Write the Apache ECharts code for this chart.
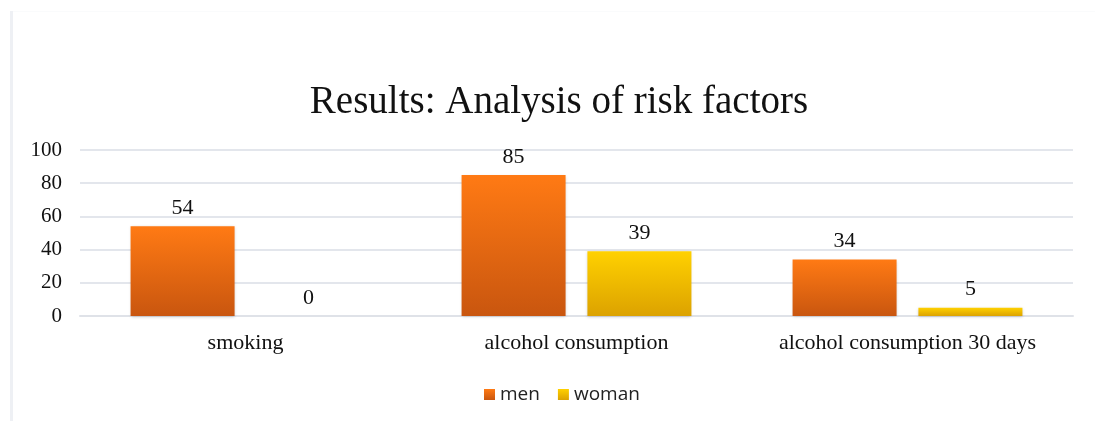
<!DOCTYPE html>
<html>
<head>
<meta charset="utf-8">
<style>
  html, body { margin: 0; padding: 0; background: #ffffff; }
  #chart { width: 1095px; height: 421px; }
</style>
<script src="https://cdn.jsdelivr.net/npm/echarts@6/dist/echarts.min.js"></script>
</head>
<body>
<div id="chart"></div>
<script>
// Risk factor counts by sex
const categories = ['smoking', 'alcohol consumption', 'alcohol consumption 30 days'];
const menValues = [54, 85, 34];
const womanValues = [0, 39, 5];
const yTicks = [0, 20, 40, 60, 80, 100];

const serif = '"Liberation Serif", "DejaVu Serif", serif';

function vGrad(top, bottom) {
  return new echarts.graphic.LinearGradient(0, 0, 0, 1, [
    { offset: 0, color: top },
    { offset: 1, color: bottom }
  ]);
}

const chart = echarts.init(document.getElementById('chart'), null, { renderer: 'canvas' });

const labelStyle = {
  show: true,
  position: 'top',
  distance: 7,
  fontFamily: serif,
  fontSize: 22,
  color: '#111111'
};

chart.setOption({
  animation: false,
  backgroundColor: '#ffffff',
  graphic: [
    {
      type: 'rect',
      shape: { x: 10, y: 11, width: 3, height: 410 },
      style: { fill: '#eef0f4' },
      silent: true
    },
    {
      type: 'rect',
      shape: { x: 13, y: 11, width: 1082, height: 1 },
      style: { fill: '#fafbfc' },
      silent: true
    }
  ],
  title: {
    text: 'Results: Analysis of risk factors',
    left: 554,
    textAlign: 'center',
    top: 78,
    textStyle: {
      fontFamily: serif,
      fontWeight: 'normal',
      fontSize: 39,
      color: '#111111'
    }
  },
  legend: {
    data: ['men', 'woman'],
    top: 380,
    left: 479,
    itemWidth: 11,
    itemHeight: 11,
    itemGap: 18,
    icon: 'rect',
    textStyle: {
      fontFamily: '"Open Sans", "Noto Sans", sans-serif',
      fontSize: 19,
      color: '#222222'
    }
  },
  grid: {
    left: 80,
    right: 22,
    top: 150,
    bottom: 105,
    containLabel: false
  },
  xAxis: {
    type: 'category',
    data: categories,
    axisLine: { show: true, lineStyle: { color: '#dfe2e8', width: 2 } },
    axisTick: { show: false },
    axisLabel: {
      interval: 0,
      hideOverlap: false,
      margin: 16,
      fontFamily: serif,
      fontSize: 22,
      color: '#111111'
    }
  },
  yAxis: {
    type: 'value',
    min: yTicks[0],
    max: yTicks[yTicks.length - 1],
    interval: yTicks[1] - yTicks[0],
    axisLine: { show: false },
    axisTick: { show: false },
    axisLabel: {
      margin: 18,
      fontFamily: serif,
      fontSize: 21,
      color: '#111111'
    },
    splitLine: { lineStyle: { color: '#e3e6ec', width: 2 } }
  },
  series: [
    {
      name: 'men',
      type: 'bar',
      data: menValues,
      barWidth: 104,
      barGap: '21%',
      itemStyle: {
        color: vGrad('#ff7a14', '#c9560f'),
        shadowColor: 'rgba(0,0,0,0.18)',
        shadowBlur: 3,
        shadowOffsetY: 1
      },
      label: labelStyle
    },
    {
      name: 'woman',
      type: 'bar',
      data: womanValues,
      barWidth: 104,
      itemStyle: {
        color: vGrad('#ffd100', '#dca200'),
        shadowColor: 'rgba(0,0,0,0.18)',
        shadowBlur: 3,
        shadowOffsetY: 1
      },
      label: labelStyle
    }
  ]
});
</script>
</body>
</html>
